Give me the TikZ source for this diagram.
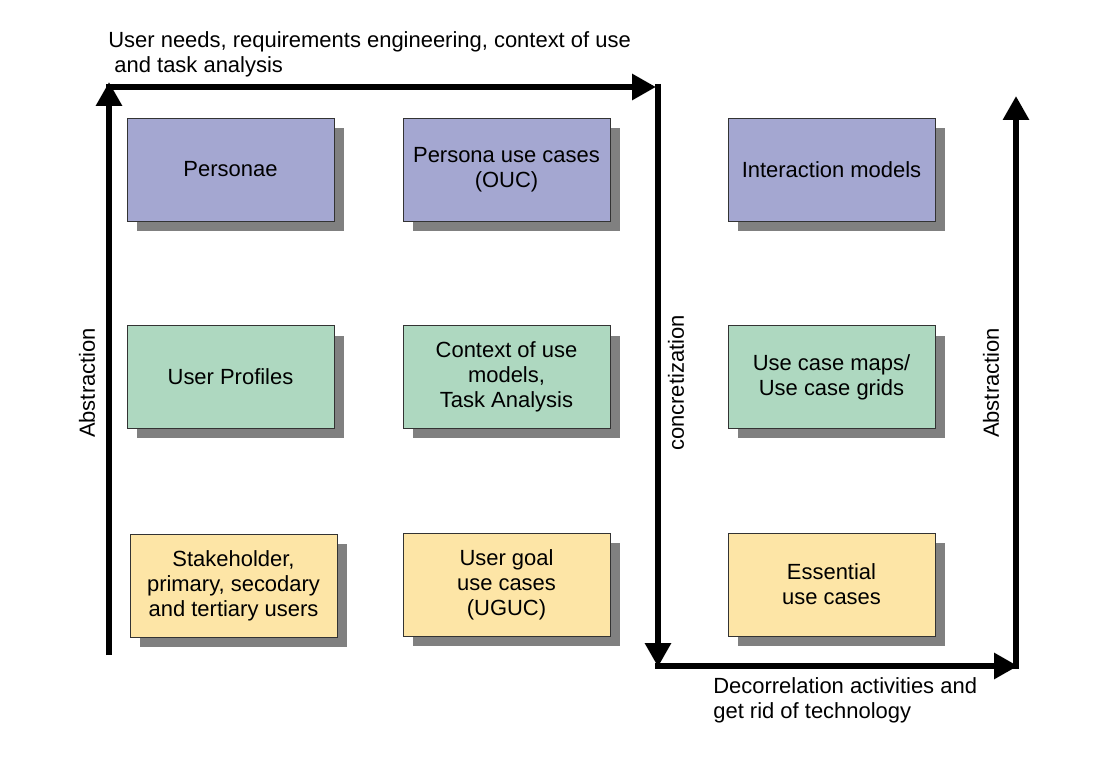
\documentclass[tikz,border=0pt]{standalone}
\usepackage{fontspec}
\setmainfont{Liberation Sans}
\usepackage{tikz}
\usetikzlibrary{arrows.meta}
\usetikzlibrary{shadows}
\definecolor{boxblue}{RGB}{164,167,209}
\definecolor{boxgreen}{RGB}{174,216,192}
\definecolor{boxyellow}{RGB}{253,229,166}
\definecolor{shadowgray}{RGB}{128,128,128}

\begin{document}
\begin{tikzpicture}[x=0.02cm, y=-0.02cm,
                font=\fontsize{12.5}{14.3}\selectfont,
                box/.style={fill=#1, draw=black!80, line width=0.5pt,
                    minimum width=4.14cm,
                    minimum height=2.06cm,
                    align=center,
                    rectangle,
                    drop shadow={fill=shadowgray, opacity=1,
                        shadow xshift=0.2cm, shadow yshift=-0.2cm}},
                flow/.style={line width=0.12cm,
                    -{Triangle[width=0.5cm,length=0.48cm]}},
                lbl/.style={inner sep=0pt}]
                \useasboundingbox (0,0) rectangle (1102,760);
                % top row
                \node[box=boxblue](pers) at (230.5, 169.5) {Personae};
                \node[box=boxblue](ouc) at (506.5, 169.5) {Persona use cases\\(OUC)};
                \node[box=boxblue](imod) at (831.5, 169.5) {Interaction models};
                % middle row
                \node[box=boxgreen](uprof) at (230.5, 377) {User Profiles};
                \node[box=boxgreen](ctx) at (506.5, 377) {Context of use\\models,\\Task Analysis};
                \node[box=boxgreen](ucmap) at (831.5, 377) {Use case maps/\\Use case grids};
                % bottom row
                \node[box=boxyellow](stake) at (233.5, 585.5) {Stakeholder,\\primary, secodary\\and tertiary users};
                \node[box=boxyellow](uguc) at (506.5, 584.5) {User goal\\use cases\\(UGUC)};
                \node[box=boxyellow](ess) at (831.5, 584.5) {Essential\\use cases};
                % corners of the flow
                \coordinate (c1) at (109, 655);
                \coordinate (c2) at (109, 82);
                \coordinate (c3) at (106, 87);
                \coordinate (c4) at (656, 87);
                \coordinate (c5) at (658, 84);
                \coordinate (c6) at (658, 667);
                \coordinate (c7) at (655, 666);
                \coordinate (c8) at (1018, 666);
                \coordinate (c9) at (1016, 669);
                \coordinate (c10) at (1016, 96);
                \draw[flow] (c1) -- (c2);
                \draw[flow] (c3) -- (c4);
                \draw[flow] (c5) -- (c6);
                \draw[flow] (c7) -- (c8);
                \draw[flow] (c9) -- (c10);
                % labels
                \node[lbl, anchor=west, align=left](needs) at (108, 54)
                    {User needs, requirements engineering, context of use\\\ and task analysis};
                \node[lbl, rotate=90](absl) at (87, 383) {Abstraction};
                \node[lbl, rotate=90](conc) at (676, 383) {concretization};
                \node[lbl, rotate=90](absr) at (991, 383) {Abstraction};
                \node[lbl, anchor=west, align=left](decor) at (713, 700)
                    {Decorrelation activities and\\get rid of technology};
            \end{tikzpicture}
\end{document}
